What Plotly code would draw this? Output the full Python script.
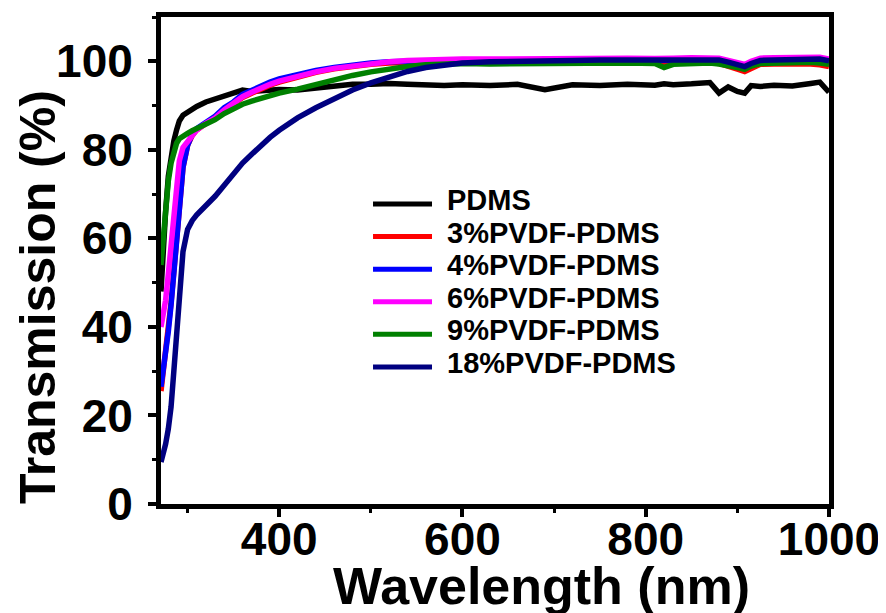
import plotly.graph_objects as go

# ---------------- data ----------------
wavelength = [271, 273, 276, 279, 282, 285, 288, 291, 295, 300, 305, 310, 320, 330, 340,
              350, 360, 370, 380, 390, 400, 420, 440, 460, 480, 500, 520, 540, 560, 580,
              600, 630, 660, 690, 720, 750, 780, 810, 820, 830, 850, 870, 880, 890, 900,
              908, 915, 925, 940, 960, 980, 990, 1000]

pdms = [48, 56, 66, 74, 79, 82, 84.5, 86.5, 87.8, 88.5, 89.3, 89.8, 90.8, 91.5, 92.2,
        92.7, 93.5, 93.2, 93.4, 93.5, 93.6, 93.5, 94.0, 94.2, 94.8, 94.8, 95.0, 94.8, 94.6, 94.5,
        94.7, 94.5, 94.8, 93.6, 94.7, 94.5, 94.8, 94.6, 94.9, 94.7, 94.9, 95.2, 92.8, 94.2, 93.2,
        92.8, 94.5, 94.3, 94.6, 94.4, 95.0, 95.3, 93.0]

pvdf3 = [25.5, 29, 33.5, 39.5, 45.5, 52.5, 59.5, 67.5, 76, 81, 83.2, 84.5, 86, 87.3, 89,
         90.3, 91.8, 92.8, 93.8, 94.6, 95.3, 96.5, 97.5, 98.3, 98.9, 99.3, 99.6, 99.8, 99.9, 99.9,
         99.9, 99.9, 99.9, 99.8, 99.9, 99.9, 99.8, 99.7, 99.6, 99.7, 99.7, 99.7, 99.5, 99.0, 98.2,
         97.7, 98.5, 99.3, 99.4, 99.5, 99.4, 99.2, 98.8]

pvdf4 = [26.5, 29.5, 33, 39, 45, 52, 59, 67, 76, 81, 83.5, 84.8, 86.3, 87.6, 89.5,
         90.8, 92.5, 93.5, 94.5, 95.3, 96.0, 97.0, 97.9, 98.6, 99.2, 99.6, 99.9, 100.1, 100.2, 100.2,
         100.3, 100.3, 100.4, 100.3, 100.4, 100.4, 100.5, 100.3, 100.3, 100.4, 100.4, 100.5, 100.2, 99.8, 99.0,
         98.4, 99.2, 100.0, 100.2, 100.3, 100.4, 100.2, 99.8]

pvdf6 = [40, 42, 46, 52, 59, 66, 73, 77.5, 80.5, 82, 83.3, 84.5, 86, 87.2, 89,
         90.4, 92, 93, 94, 94.8, 95.5, 96.6, 97.6, 98.4, 99.0, 99.5, 99.9, 100.2, 100.4, 100.5,
         100.5, 100.5, 100.6, 100.6, 100.6, 100.7, 100.7, 100.6, 100.8, 100.7, 100.8, 100.9, 100.7, 100.2, 99.6,
         99.3, 100.0, 100.7, 100.8, 100.8, 101.0, 100.9, 100.5]

pvdf9 = [54, 59, 67, 73, 77, 80, 81.5, 82.5, 83.2, 83.7, 84.3, 84.8, 85.7, 86.8, 88.2,
         89.3, 90.3, 91.0, 91.6, 92.3, 92.8, 93.7, 94.8, 95.8, 96.8, 97.6, 98.3, 98.8, 99.2, 99.4,
         99.5, 99.4, 99.5, 99.5, 99.6, 99.6, 99.6, 99.5, 98.6, 99.3, 99.5, 99.6, 99.4, 99.1, 98.6,
         98.2, 98.9, 99.5, 99.6, 99.7, 99.8, 99.6, 99.3]

pvdf18 = [9.5, 11, 13.5, 17, 22, 30, 39, 49, 57, 62, 64, 65.3, 67.3, 69.5, 72,
          74.5, 77, 79, 81, 82.8, 84.4, 87.2, 89.5, 91.6, 93.5, 95.1, 96.5, 97.7, 98.6, 99.2,
          99.6, 99.9, 100.1, 100.2, 100.2, 100.3, 100.3, 100.3, 100.4, 100.3, 100.4, 100.5, 100.3, 99.8, 99.2,
          98.8, 99.5, 100.2, 100.3, 100.4, 100.4, 100.5, 100.1]

series_names = ["PDMS", "3%PVDF-PDMS", "4%PVDF-PDMS", "6%PVDF-PDMS", "9%PVDF-PDMS", "18%PVDF-PDMS"]
series_values = [pdms, pvdf3, pvdf4, pvdf6, pvdf9, pvdf18]
series_colors = ["#000000", "#ff0000", "#0000ff", "#ff00ff", "#008000", "#000080"]

x_tick_vals = [400, 600, 800, 1000]
y_tick_vals = [0, 20, 40, 60, 80, 100]

# ---------------- figure ----------------
FONT = "Liberation Sans, Arial, sans-serif"
fig = go.Figure()
for name, vals, col in zip(series_names, series_values, series_colors):
    fig.add_trace(go.Scatter(x=wavelength, y=vals, mode="lines", name=name,
                             line=dict(color=col, width=5.5), showlegend=False))

# custom legend (long line samples like the reference)
leg_x0, leg_x1, leg_tx = 0.3174, 0.4057, 0.4251
leg_y0, leg_dy = 0.616, 0.0669
shapes = []
annotations = []
for i, (name, col) in enumerate(zip(series_names, series_colors)):
    yy = leg_y0 - i * leg_dy
    shapes.append(dict(type="line", xref="paper", yref="paper", x0=leg_x0, x1=leg_x1,
                       y0=yy, y1=yy, line=dict(color=col, width=5)))
    annotations.append(dict(xref="paper", yref="paper", x=leg_tx, y=yy, text=name,
                            showarrow=False, xanchor="left", yanchor="middle", yshift=4,
                            font=dict(family=FONT, size=29, color="black", weight="bold")))

# axis titles placed like the reference
annotations.append(dict(xref="paper", yref="paper", x=0.570, y=-0.168, text="Wavelength (nm)",
                        showarrow=False, xanchor="center", yanchor="middle",
                        font=dict(family=FONT, size=52, color="black", weight="bold")))
annotations.append(dict(xref="paper", yref="paper", x=-0.184, y=0.425, text="Transmission (%)",
                        showarrow=False, xanchor="center", yanchor="middle", textangle=-90,
                        font=dict(family=FONT, size=50, color="black", weight="bold")))

axis_common = dict(showline=True, linecolor="black", linewidth=5, mirror=True,
                   showgrid=False, zeroline=False, ticks="outside", ticklen=8, tickwidth=4,
                   tickcolor="black",
                   tickfont=dict(family=FONT, size=46, color="black", weight="bold"))

fig.update_xaxes(range=[271, 1000], tickvals=x_tick_vals, ticklabelstandoff=-17,
                 minor=dict(ticks="outside", ticklen=4, tickwidth=3, tickcolor="black",
                            dtick=100, tick0=0, showgrid=False),
                 **axis_common)
fig.update_yaxes(range=[0, 110], tickvals=y_tick_vals, ticklabelstandoff=6,
                 minor=dict(ticks="outside", ticklen=4, tickwidth=3, tickcolor="black",
                            dtick=10, tick0=0, showgrid=False),
                 **axis_common)

# the page body has an 8px margin, so the figure is 8px smaller than the window
fig.update_layout(width=878, height=605, plot_bgcolor="white", paper_bgcolor="white",
                  margin=dict(l=153, r=57, t=9, b=109, autoexpand=False),
                  shapes=shapes, annotations=annotations, showlegend=False)

fig.write_html("out.html")
